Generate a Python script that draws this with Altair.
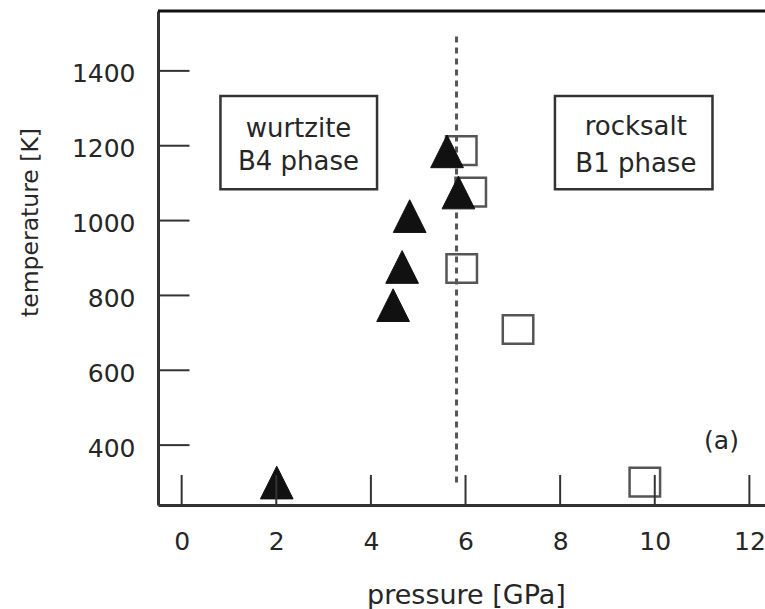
import altair as alt
import pandas as pd

# ---- data ----
wurtzite_pressure = [2.01, 4.47, 4.66, 4.82, 5.61, 5.85]
wurtzite_temperature = [300, 774, 876, 1012, 1185, 1075]
rocksalt_pressure = [5.91, 6.11, 5.92, 7.11, 9.79]
rocksalt_temperature = [1187, 1076, 872, 709, 301]
boundary_pressure = [5.81]
boundary_temperature = [300, 1500]
x_ticks = [0, 2, 4, 6, 8, 10, 12]
y_ticks = [400, 600, 800, 1000, 1200, 1400]
box_p_start = [0.82, 7.89]
box_p_end = [4.13, 11.22]
box_t_low = [1084, 1084]
box_t_high = [1333, 1333]
box_lines = ["wurtzite", "B4 phase", "rocksalt", "B1 phase"]
box_line_p = [2.47, 2.47, 9.6, 9.6]
box_line_t = [1224, 1135, 1229, 1131]
panel_label = ["(a)"]
panel_label_p = [11.41]
panel_label_t = [410]

W, H = 607, 494
FONT = "DejaVu Sans"
TXT = "#262626"
LINE = "#333333"

xscale = alt.Scale(domain=[-0.5, 12.33], nice=False, zero=False)
yscale = alt.Scale(domain=[240, 1560], nice=False, zero=False)

x_axis = alt.Axis(
    values=x_ticks, format="d", ticks=False, tickSize=0, grid=False,
    domainColor=LINE, domainWidth=3,
    labelFont=FONT, labelFontSize=25, labelColor=TXT, labelPadding=24,
    labelFlush=False, labelOverlap=False,
    title="pressure [GPa]", titleFont=FONT, titleFontSize=27,
    titleFontWeight="normal", titleColor=TXT, titleX=308, titleY=98,
    titleAlign="center", titleBaseline="alphabetic",
)
y_axis = alt.Axis(
    values=y_ticks, format="d", ticks=False, tickSize=0, grid=False,
    domainColor=LINE, domainWidth=3,
    labelFont=FONT, labelFontSize=25, labelColor=TXT, labelPadding=23,
    labelOffset=3, labelFlush=False, labelOverlap=False,
    title="temperature [K]", titleFont=FONT, titleFontSize=23.5,
    titleFontWeight="normal", titleColor=TXT, titleAngle=270,
    titleX=-128, titleY=211, titleAlign="center", titleBaseline="middle",
)


def X(field):
    return alt.X(field, scale=xscale, axis=x_axis)


def Y(field):
    return alt.Y(field, scale=yscale, axis=y_axis)


boxes_df = pd.DataFrame({"p0": box_p_start, "p1": box_p_end,
                         "t0": box_t_low, "t1": box_t_high})
boxes = alt.Chart(boxes_df).mark_rect(
    fill="white", stroke=LINE, strokeWidth=2.5
).encode(x=X("p0:Q"), x2="p1:Q", y=Y("t0:Q"), y2="t1:Q")

bnd_df = pd.DataFrame({"p": boundary_pressure,
                       "t0": [boundary_temperature[0]],
                       "t1": [boundary_temperature[1]]})
boundary = alt.Chart(bnd_df).mark_rule(
    color="#555555", strokeWidth=3, strokeDash=[6, 5]
).encode(x=X("p:Q"), y=Y("t0:Q"), y2="t1:Q")

rs_df = pd.DataFrame({"p": rocksalt_pressure, "t": rocksalt_temperature})
squares = alt.Chart(rs_df).mark_point(
    shape="M-1,-0.94L1,-0.94L1,0.94L-1,0.94Z", size=930, filled=False,
    stroke="#555555", strokeWidth=2.5, opacity=1
).encode(x=X("p:Q"), y=Y("t:Q"))

wz_df = pd.DataFrame({"p": wurtzite_pressure, "t": wurtzite_temperature})
triangles = alt.Chart(wz_df).mark_point(
    shape="M0,-1L-1,1L1,1Z", size=1070, filled=True,
    fill="#111111", stroke="#111111", strokeWidth=1, opacity=1
).encode(x=X("p:Q"), y=Y("t:Q"))

lines_df = pd.DataFrame({"label": box_lines, "p": box_line_p, "t": box_line_t})
box_text = alt.Chart(lines_df).mark_text(
    font=FONT, fontSize=26, color=TXT, align="center", baseline="alphabetic"
).encode(x=X("p:Q"), y=Y("t:Q"), text="label:N")

pl_df = pd.DataFrame({"label": panel_label, "p": panel_label_p, "t": panel_label_t})
panel_text = alt.Chart(pl_df).mark_text(
    font=FONT, fontSize=25, color=TXT, align="center", baseline="middle"
).encode(x=X("p:Q"), y=Y("t:Q"), text="label:N")

xt = alt.Chart(pd.DataFrame({"p": x_ticks})).mark_rule(
    color=LINE, strokeWidth=2
).encode(x=X("p:Q"), y=alt.value(H), y2=alt.value(H - 30))
yt = alt.Chart(pd.DataFrame({"t": y_ticks})).mark_rule(
    color=LINE, strokeWidth=2
).encode(y=Y("t:Q"), x=alt.value(0), x2=alt.value(31.5))
top = alt.Chart(pd.DataFrame({"d": [0]})).mark_rule(
    color="#111111", strokeWidth=3
).encode(y=alt.value(0), x=alt.value(0), x2=alt.value(W))

chart = alt.layer(
    squares, boxes, boundary, triangles, box_text, panel_text, xt, yt, top
).properties(
    width=W, height=H,
    padding={"left": 158, "top": 11, "right": 0, "bottom": 104},
    autosize=alt.AutoSizeParams(type="none"),
    background="white",
).configure_view(stroke=None)

chart.save("out.html", embed_options={"renderer": "svg", "actions": False})
